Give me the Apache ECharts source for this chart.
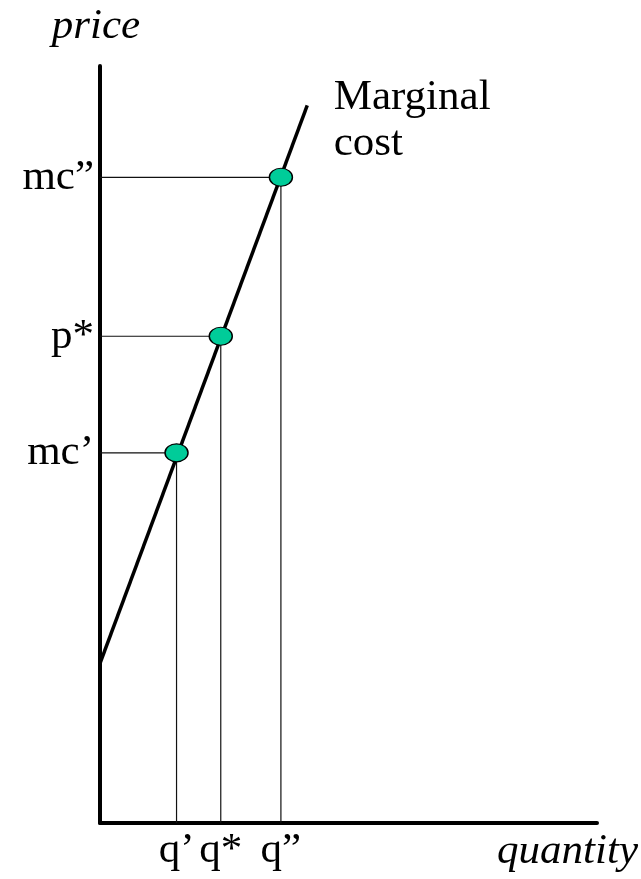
<!DOCTYPE html>
<html>
<head>
<meta charset="utf-8">
<script src="https://cdn.jsdelivr.net/npm/echarts@6/dist/echarts.min.js"></script>
<style>html,body{margin:0;padding:0;background:#fff}#c{width:641px;height:879px}</style>
</head>
<body>
<div id="c"></div>
<script>
// Data
var qValues = [1.54, 2.43, 3.64];
var qLabels = ['q\u2019', 'q*', 'q\u201d'];
var pValues = [4.89, 6.43, 8.53];
var pLabels = ['mc\u2019', 'p*', 'mc\u201d'];
var curve = [[0, 2.11], [4.17, 9.48]];
var curveName = 'Marginal\ncost';
var xName = 'quantity';
var yName = 'price';

var font = 'Liberation Serif';
function lookup(vals, labels, v) {
  for (var i = 0; i < vals.length; i++) if (Math.abs(vals[i] - v) < 1e-6) return labels[i];
  return '';
}
var series = [];
for (var i = 0; i < qValues.length; i++) {
  series.push({
    type: 'line', silent: true, symbol: 'none', z: 2,
    lineStyle: { color: '#111', width: 1.2 },
    data: [[0, pValues[i]], [qValues[i], pValues[i]], [qValues[i], 0]]
  });
}
series.push({
  type: 'line', symbol: 'none', z: 3,
  lineStyle: { color: '#000', width: 3.5 },
  data: curve
});
series.push({
  type: 'scatter', z: 4,
  symbol: 'circle', symbolSize: [23, 18],
  itemStyle: { color: '#00CC99', borderColor: '#000', borderWidth: 1.3, opacity: 1 },
  data: qValues.map(function (q, i) { return [q, pValues[i]]; })
});
series.push({
  type: 'scatter', z: 5, symbolSize: 1,
  itemStyle: { color: 'rgba(0,0,0,0)', opacity: 1 },
  label: {
    show: true, position: 'right', distance: 26, offset: [0, 15],
    formatter: curveName, fontFamily: font, fontSize: 43, lineHeight: 46, color: '#000', opacity: 1, align: 'left'
  },
  data: [curve[curve.length - 1]]
});

var chart = echarts.init(document.getElementById('c'));
chart.setOption({
  animation: false,
  backgroundColor: '#fff',
  grid: { left: 100, right: 44, top: 66, bottom: 56 },
  xAxis: {
    type: 'value', min: 0, max: 10,
    name: xName, nameLocation: 'end', nameGap: 41,
    nameTextStyle: { fontFamily: font, fontStyle: 'italic', fontSize: 43, color: '#000', align: 'right', verticalAlign: 'top', padding: [7, 0, 0, 0] },
    axisLine: { show: true, onZero: false, lineStyle: { color: '#000', width: 4 } },
    axisTick: { show: false },
    splitLine: { show: false },
    axisLabel: {
      customValues: qValues, margin: 6,
      fontFamily: font, fontSize: 43, color: '#000',
      formatter: function (v) { return lookup(qValues, qLabels, v); }
    }
  },
  yAxis: {
    type: 'value', min: 0, max: 10,
    name: yName, nameLocation: 'end', nameGap: 18,
    nameTextStyle: { fontFamily: font, fontStyle: 'italic', fontSize: 43, color: '#000', align: 'center', padding: [0, 8, 0, 0] },
    axisLine: { show: true, onZero: false, lineStyle: { color: '#000', width: 4 } },
    axisTick: { show: false },
    splitLine: { show: false },
    axisLabel: {
      customValues: pValues, margin: 6,
      fontFamily: font, fontSize: 43, color: '#000',
      formatter: function (v) { return lookup(pValues, pLabels, v); }
    }
  },
  series: series
});
</script>
</body>
</html>
